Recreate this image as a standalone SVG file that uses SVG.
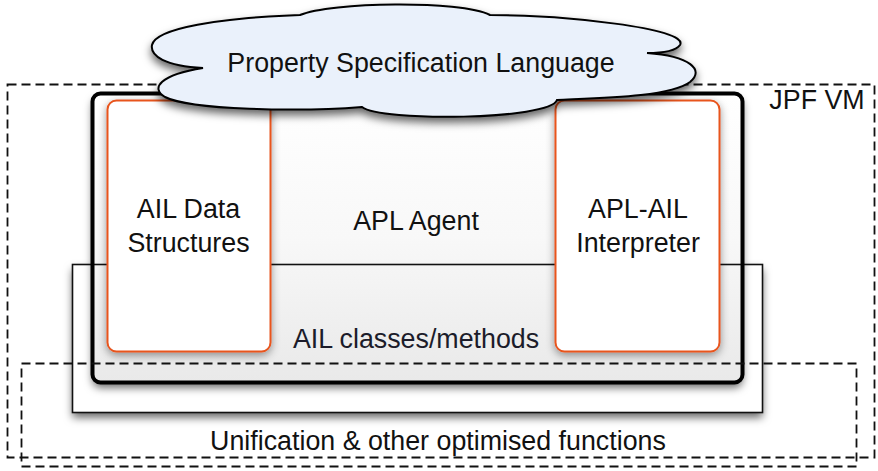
<svg xmlns="http://www.w3.org/2000/svg" width="878" height="471" viewBox="0 0 878 471">
<defs>
<filter id="sh" x="-10%" y="-10%" width="120%" height="130%">
<feDropShadow dx="0" dy="5" stdDeviation="4" flood-color="#000" flood-opacity="0.6"/>
</filter>
<filter id="sh2" x="-20%" y="-10%" width="140%" height="130%">
<feDropShadow dx="0" dy="3" stdDeviation="4" flood-color="#000" flood-opacity="0.4"/>
</filter>
<linearGradient id="ag" x1="0" y1="0" x2="0" y2="1">
<stop offset="0" stop-color="#ffffff"/>
<stop offset="0.5" stop-color="#f8f8f8"/>
<stop offset="1" stop-color="#e9e9e9"/>
</linearGradient>
<style>
text{font-family:"Liberation Sans",Arial,sans-serif;font-size:26.8px;fill:#111;text-anchor:middle}
.dash{fill:none;stroke:#111;stroke-width:1.8;stroke-dasharray:9 5}
.orange{fill:#fff;stroke:#e8541f;stroke-width:2}
</style>
</defs>
<rect id="jpf" class="dash" x="7.5" y="84.5" width="867" height="373"/>
<g id="ail-classes">
<rect x="72.5" y="264.5" width="690" height="148" fill="#fff" filter="url(#sh)"/>
</g>
<g id="apl-agent-bg">
<rect x="92.5" y="93.5" width="650" height="289" rx="8" fill="url(#ag)" filter="url(#sh)"/>
</g>
<rect x="72.5" y="264.5" width="690" height="148" fill="none" stroke="#111" stroke-width="1.6"/>
<g id="apl-agent">
<rect x="92.5" y="93.5" width="650" height="289" rx="8" fill="none" stroke="#000" stroke-width="4"/>
<text x="416" y="230">APL Agent</text>
</g>
<text x="416" y="348" style="fill:#1c1c2a">AIL classes/methods</text>
<g id="ail-data">
<rect class="orange" x="107.5" y="100.5" width="163" height="251" rx="9" filter="url(#sh2)"/>
<text x="188.5" y="218">AIL Data</text>
<text x="188.5" y="252">Structures</text>
</g>
<g id="interpreter">
<rect class="orange" x="555.5" y="100.5" width="164" height="251" rx="9" filter="url(#sh2)"/>
<text x="638" y="218">APL-AIL</text>
<text x="638" y="252">Interpreter</text>
</g>
<text x="817" y="109">JPF VM</text>
<g id="unification">
<rect class="dash" x="21.5" y="363.5" width="835" height="103"/>
<text x="438" y="450">Unification &amp; other optimised functions</text>
</g>
<g id="psl">
<path d="M203,68 C165,66 150,56 152,45 C156,28 220,18 300,15 C330,2 460,0 490,15 C560,15 690,28 680,45 C675,52 660,53 647,53 C690,56 705,70 690,82 C670,97 600,98 557,100 C550,120 380,122 362,107 C300,112 190,110 165,97 C150,88 160,75 203,68 Z" fill="#eaf1fb" stroke="#000" stroke-width="2" filter="url(#sh)"/>
<text x="421" y="72">Property Specification Language</text>
</g>
</svg>
